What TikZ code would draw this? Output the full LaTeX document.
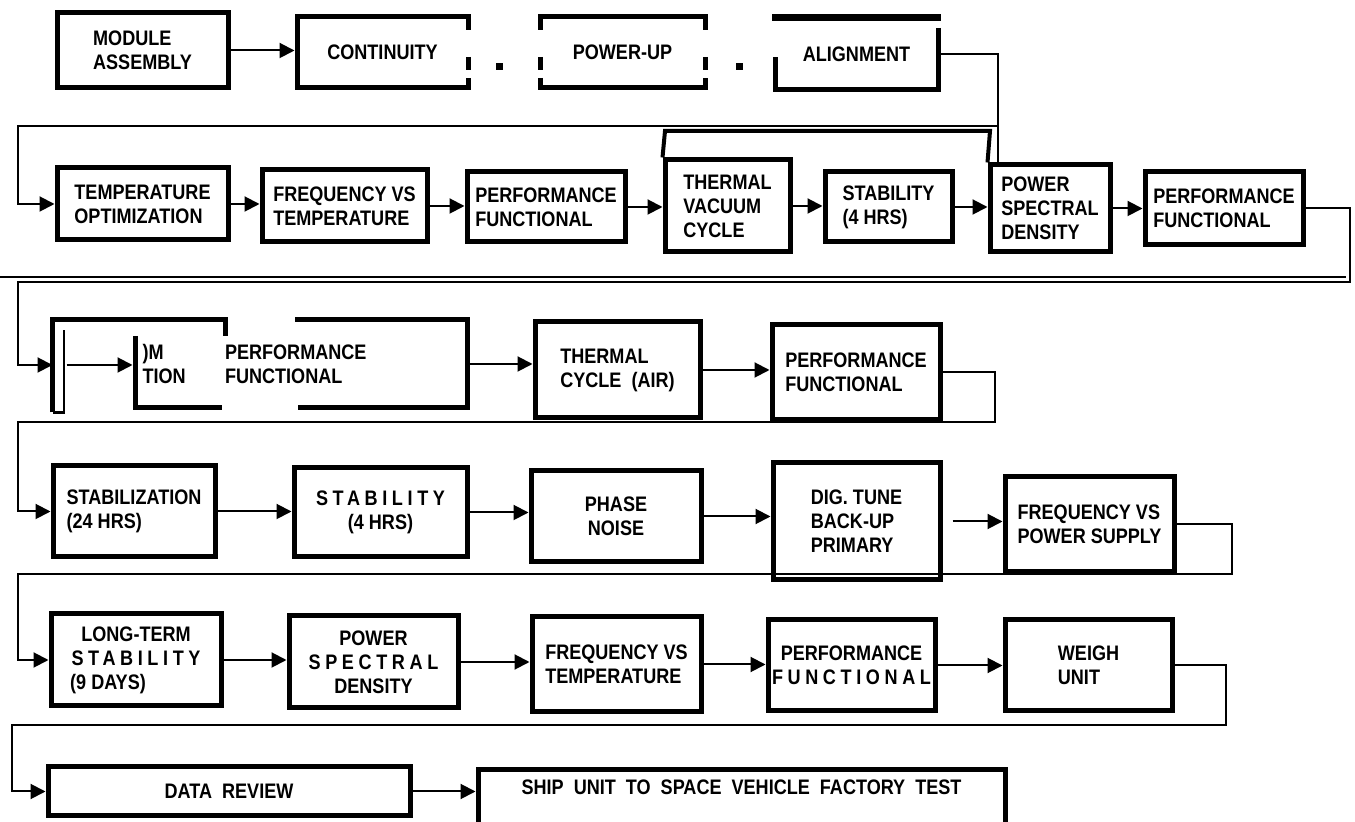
\documentclass[tikz,border=0pt]{standalone}
\usepackage{fontspec}
\newfontfamily\boxfont{Liberation Sans}[FakeStretch=0.86]
\usetikzlibrary{arrows.meta}

\tikzset{
  stage/.style={draw, line width=2.5pt, inner sep=0pt, align=left,
    font=\boxfont\bfseries\fontsize{10.5}{12}\selectfont},
  bare/.style={stage, draw=none},
  spanning/.style n args={4}{at={({(#1+#3)/2},{(#2+#4)/2})},
    minimum width={(#3-#1)*0.5pt}, minimum height={(#4-#2)*0.5pt}},
  rim/.style={line width=2.5pt},
  link/.style={line width=1pt},
  flow/.style={link, -{Triangle[length=7.5pt,width=7.5pt]}},
}
\newcommand{\spread}[1]{{\addfontfeature{LetterSpace=22}#1}}

\begin{document}
\begin{tikzpicture}[x=0.5pt,y=-0.5pt]
  \useasboundingbox (0,0) rectangle (1355,822);

  % first line
  \node[stage, spanning={57}{13}{228}{88}] (assembly) {MODULE\\ASSEMBLY};
  \node[bare, spanning={297}{17}{468}{88}] (continuity) {CONTINUITY};
  \node[bare, spanning={540}{17}{705}{88}] (powerup) {POWER-UP};
  \node[bare, spanning={775}{18}{938}{90}] (alignment) {ALIGNMENT};
  \draw[rim] (468,30) |- (297,17) |- (468,88) -- (468,78);
  \draw[rim] (468,57) -- (468,70);
  \draw[rim] (540,30) |- (705,17) -- (705,30);
  \draw[rim] (540,78) |- (705,88) -- (705,78);
  \draw[rim] (540,57) -- (540,70) (705,57) -- (705,70);
  \fill (496,63) rectangle (503,70);
  \fill (736,63) rectangle (743,70);
  \draw[line width=3.5pt] (772,18) -- (941,18);
  \draw[rim] (938,28) |- (775,90) -- (775,57);

  % second line
  \node[stage, spanning={57}{168}{228}{240}] (temperature) {TEMPERATURE\\OPTIMIZATION};
  \node[stage, spanning={262}{170}{427}{242}] (freqtemp) {FREQUENCY VS\\TEMPERATURE};
  \node[stage, spanning={467}{172}{625}{242}] (perfA) {PERFORMANCE\\FUNCTIONAL};
  \node[stage, spanning={665}{160}{790}{252}] (thermal) {THERMAL\\VACUUM\\CYCLE};
  \node[stage, spanning={825}{172}{952}{242}] (stabA) {STABILITY\\(4 HRS)};
  \node[stage, spanning={990}{165}{1110}{252}] (psdA) {POWER\\SPECTRAL\\DENSITY};
  \node[stage, spanning={1145}{172}{1303}{245}] (perfB) {PERFORMANCE\\FUNCTIONAL};
  \draw[line width=2pt] (thermal.north west) -- (665,131) -- (990,131) -- (psdA.north west);
  \draw[link] (998,126) -- (998,165);

  % third line
  \node[bare, spanning={55}{320}{64}{410}] (stub) {};
  \node[bare, spanning={135}{320}{222}{408}, text width=36pt] (clipped) {)M\\TION};
  \node[bare, spanning={225}{320}{467}{408}, text width=121pt] (perfC) {PERFORMANCE\\FUNCTIONAL};
  \node[stage, spanning={535}{322}{700}{418}] (thermair) {THERMAL\\CYCLE\ \ (AIR)};
  \node[stage, spanning={772}{325}{940}{420}] (perfD) {PERFORMANCE\\FUNCTIONAL};
  \draw[rim] (stub.south west) |- (225,320) -- (225,336);
  \draw[line width=1.2pt] (stub.south west) -| (64,330);
  \draw[rim] (135,336) |- (222,408);
  \draw[rim] (295,320) -| (467,408) -- (298,408);
  \draw[link] (0,277) -- (1346,277);

  % fourth line
  \node[stage, spanning={53}{466}{215}{557}] (stabz) {STABILIZATION\\(24 HRS)};
  \node[stage, spanning={294}{468}{467}{557}, align=center] (stabB) {\spread{STABILITY}\\(4 HRS)};
  \node[stage, spanning={531}{471}{701}{562}, align=center] (phase) {PHASE\\NOISE};
  \node[stage, spanning={773}{463}{940}{580}] (digtune) {DIG. TUNE\\BACK-UP\\PRIMARY};
  \node[stage, spanning={1005}{477}{1174}{572}] (freqsupply) {FREQUENCY VS\\POWER SUPPLY};

  % fifth line
  \node[stage, spanning={51}{614}{221}{706}, align=center] (longterm) {LONG-TERM\\\spread{STABILITY}\\(9 DAYS)\hspace*{28pt}};
  \node[stage, spanning={289}{616}{458}{708}, align=center] (psdB) {POWER\\\spread{SPECTRAL}\\DENSITY};
  \node[stage, spanning={532}{617}{701}{712}] (freqtempB) {FREQUENCY VS\\TEMPERATURE};
  \node[stage, spanning={768}{620}{935}{711}, align=center] (perfE) {PERFORMANCE\\\spread{FUNCTIONAL}};
  \node[stage, spanning={1005}{620}{1172}{711}] (weigh) {WEIGH\\UNIT};

  % last line
  \node[stage, spanning={48}{767}{410}{816}] (review) {DATA\ \ REVIEW};
  \node[bare, spanning={478}{770}{1005}{804}] (ship) {SHIP\ \ UNIT\ \ TO\ \ SPACE\ \ VEHICLE\ \ FACTORY\ \ TEST};
  \draw[rim] (478,830) |- (1005,770) -- (1005,830);

  % steps in a line
  \foreach \a/\b in {assembly/continuity, temperature/freqtemp, freqtemp/perfA,
      perfA/thermal, thermal/stabA, stabA/psdA, psdA/perfB, stub/clipped,
      perfC/thermair, thermair/perfD, stabz/stabB, stabB/phase, phase/digtune,
      longterm/psdB, psdB/freqtempB, freqtempB/perfE, perfE/weigh, review/ship}
    \draw[flow] (\a.east) -- (\a.east -| \b.west);
  \draw[flow, shorten <=5pt] (digtune.east) -- (digtune.east -| freqsupply.west);

  % returns to the next line
  \draw[flow] (alignment.east) -| (998,126) -- (18,126) |- (temperature.west);
  \draw[flow] (perfB.east) -| (1350,282) -- (18,282) |- (stub.west);
  \draw[flow] (perfD.east) -| (995,422) -- (18,422) |- (stabz.west);
  \draw[flow] (freqsupply.east) -| (1232,574) -- (18,574) |- (longterm.west);
  \draw[flow] (weigh.east) -| (1226,725) -- (12,725) |- (review.west);
\end{tikzpicture}
\end{document}
